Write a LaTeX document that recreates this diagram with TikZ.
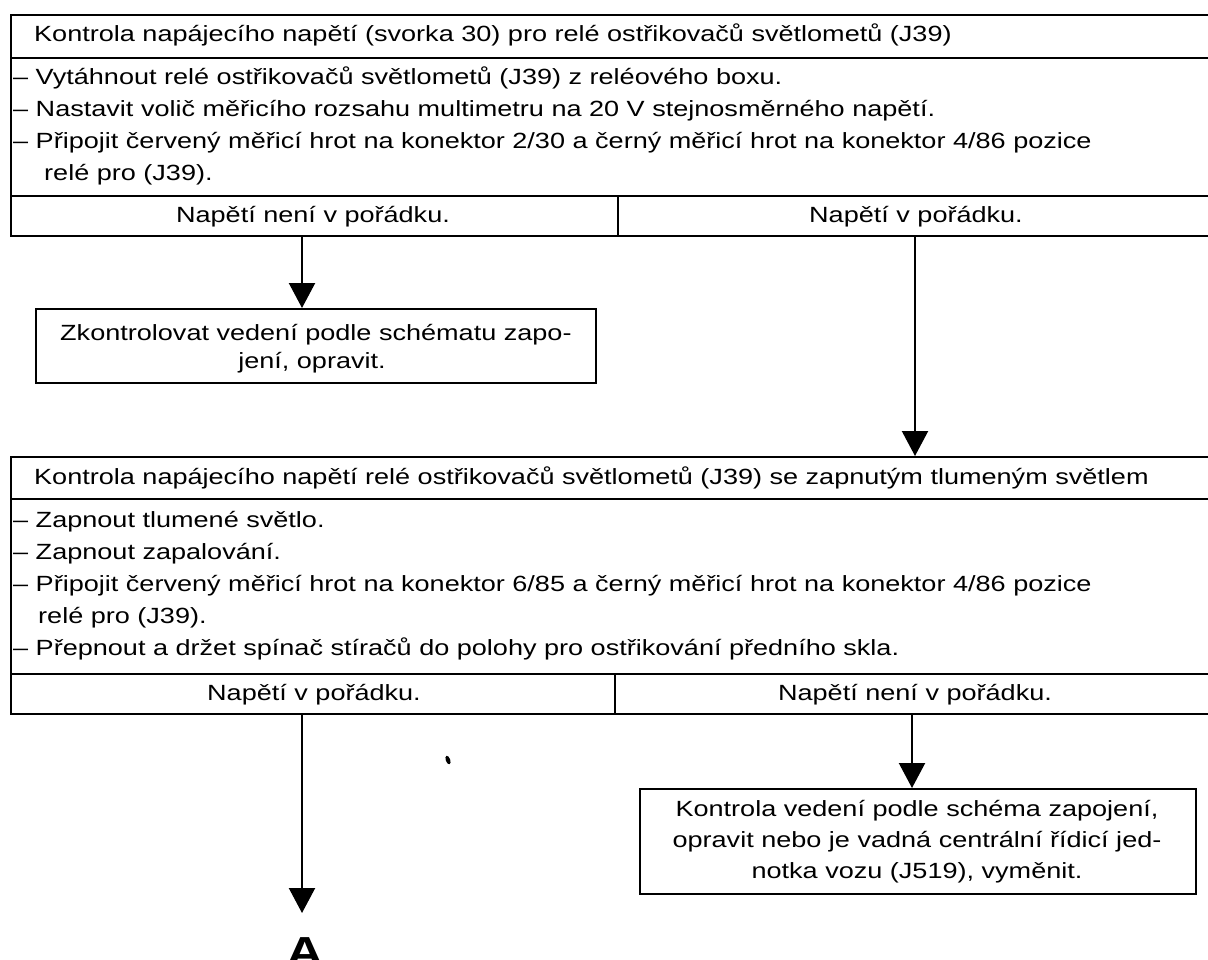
\documentclass[tikz,border=0pt]{standalone}
\usepackage{fontspec}
\setmainfont{Liberation Sans}[FakeStretch=1.23]
\usetikzlibrary{arrows.meta}

\begin{document}
\begin{tikzpicture}[x=1pt, y=-1pt,
  cell/.style={draw, line width=2.4pt, rectangle, inner sep=0pt, anchor=north west},
  txt/.style={font=\fontsize{22}{30}\selectfont, inner sep=0pt},
  lt/.style={txt, anchor=base west},
  ct/.style={txt, anchor=base},
  flow/.style={-{Triangle[width=26pt,length=25pt]}, line width=2.2pt}
]
\useasboundingbox (0,0) rectangle (1208,959);

% ---------- first check block ----------
\node[cell, minimum width=1205pt, minimum height=43pt] (t1) at (10,14) {};
\node[cell, minimum width=1205pt, minimum height=138pt] (s1) at (10,57) {};
\node[cell, minimum width=607pt, minimum height=40pt] (o1a) at (10,195) {};
\node[cell, minimum width=598pt, minimum height=40pt] (o1b) at (617,195) {};

\node[lt] (t1x) at (34,41) {Kontrola napájecího napětí (svorka 30) pro relé ostřikovačů světlometů (J39)};
\node[lt] (s1a) at (13,84) {– Vytáhnout relé ostřikovačů světlometů (J39) z reléového boxu.};
\node[lt] (s1b) at (13,116) {– Nastavit volič měřicího rozsahu multimetru na 20 V stejnosměrného napětí.};
\node[lt] (s1c) at (13,148) {– Připojit červený měřicí hrot na konektor 2/30 a černý měřicí hrot na konektor 4/86 pozice};
\node[lt] (s1d) at (44,180) {relé pro (J39).};
\node[ct] (o1ax) at (313,222) {Napětí není v pořádku.};
\node[ct] (o1bx) at (916,222) {Napětí v pořádku.};

% ---------- wiring check result ----------
\node[cell, minimum width=560pt, minimum height=74pt] (r1) at (35,308) {};
\node[lt] (r1a) at (60,340) {Zkontrolovat vedení podle schématu zapo-};
\node[ct] (r1b) at (312,368) {jení, opravit.};

% ---------- second check block ----------
\node[cell, minimum width=1205pt, minimum height=42pt] (t2) at (10,456) {};
\node[cell, minimum width=1205pt, minimum height=175pt] (s2) at (10,498) {};
\node[cell, minimum width=604pt, minimum height=40pt] (o2a) at (10,673) {};
\node[cell, minimum width=601pt, minimum height=40pt] (o2b) at (614,673) {};

\node[lt] (t2x) at (34,484) {Kontrola napájecího napětí relé ostřikovačů světlometů (J39) se zapnutým tlumeným světlem};
\node[lt] (s2a) at (13,527) {– Zapnout tlumené světlo.};
\node[lt] (s2b) at (13,559) {– Zapnout zapalování.};
\node[lt] (s2c) at (13,591) {– Připojit červený měřicí hrot na konektor 6/85 a černý měřicí hrot na konektor 4/86 pozice};
\node[lt] (s2d) at (38,623) {relé pro (J39).};
\node[lt] (s2e) at (13,655) {– Přepnout a držet spínač stíračů do polohy pro ostřikování předního skla.};
\node[ct] (o2ax) at (314,700) {Napětí v pořádku.};
\node[ct] (o2bx) at (915,700) {Napětí není v pořádku.};

% ---------- control unit result ----------
\node[cell, minimum width=556pt, minimum height=105pt] (r2) at (639,788) {};
\node[ct] (r2a) at (917,816) {Kontrola vedení podle schéma zapojení,};
\node[ct] (r2b) at (917,847) {opravit nebo je vadná centrální řídicí jed-};
\node[ct] (r2c) at (917,878) {notka vozu (J519), vyměnit.};

% ---------- continuation mark ----------
\node[inner sep=0pt, anchor=base, font=\fontsize{42}{42}\selectfont\bfseries] (A) at (305,966) {A};
\coordinate (Aend) at (302,913);

% ---------- connectors ----------
\draw[flow] (o1a.south -| 302,0) -- (r1.north -| 302,0);
\draw[flow] (o1b.south -| 915,0) -- (t2.north -| 915,0);
\draw[flow] (o2a.south -| 302,0) -- (Aend);
\draw[flow] (o2b.south -| 912,0) -- (r2.north -| 912,0);

% small mark near the lower arrows
\fill[rotate around={-70:(448,760)}] (448,760) ellipse (4.5pt and 2.2pt);
\end{tikzpicture}
\end{document}
